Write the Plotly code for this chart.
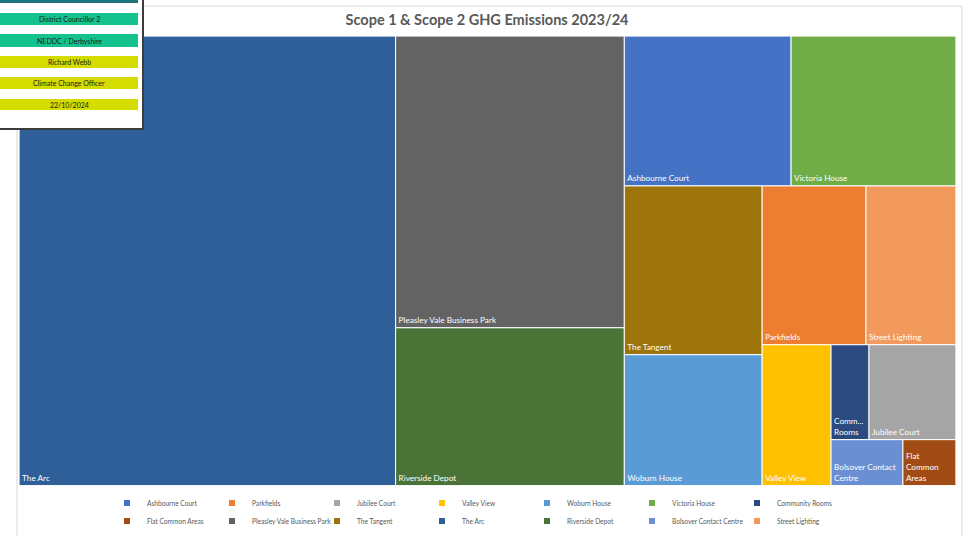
import plotly.graph_objects as go

# Categories in the workbook's (legend) order
categories = ["Ashbourne Court", "Parkfields", "Jubilee Court", "Valley View",
              "Woburn House", "Victoria House", "Community Rooms", "Flat Common Areas",
              "Pleasley Vale Business Park", "The Tangent", "The Arc", "Riverside Depot",
              "Bolsover Contact Centre", "Street Lighting"]
# Emissions (tCO2e), estimated from tile areas
emissions = [250.5, 165.4, 82.7, 97.3,
             180.8, 247.5, 36.1, 24.4,
             668.7, 233.2, 1696.5, 361.8,
             33.1, 143.1]
colors = ["#4472C4", "#ED7D31", "#A5A5A5", "#FFC000",
          "#5B9BD5", "#70AD47", "#2A4A80", "#A24C15",
          "#636363", "#9C7409", "#2E5F99", "#4A7338",
          "#6A8FD3", "#F29A5E"]
tile_text = {"Bolsover Contact Centre": "Bolsover Contact<br>Centre",
             "Flat Common Areas": "Flat<br>Common<br>Areas",
             "Community Rooms": "Comm...<br>Rooms"}
# order in which the tiles are packed
tile_order = ["The Arc", "Pleasley Vale Business Park", "Riverside Depot",
              "Ashbourne Court", "Victoria House", "The Tangent", "Woburn House",
              "Parkfields", "Street Lighting", "Valley View", "Community Rooms",
              "Jubilee Court", "Bolsover Contact Centre", "Flat Common Areas"]

# Info box texts
info_lines = ["", "District Councillor 2", "NEDDC / Derbyshire", "Richard Webb",
              "Climate Change Officer", "22/10/2024"]
info_colors = ["#1E747C", "#14C28E", "#14C28E", "#D4DC00", "#D4DC00", "#D4DC00"]

W, H = 964, 536
val = dict(zip(categories, emissions))
col = dict(zip(categories, colors))

def px(x):
    return x / W

def py(y):
    return 1 - y / H

fig = go.Figure()
fig.add_trace(go.Treemap(
    labels=tile_order,
    parents=[""] * len(tile_order),
    values=[val[c] for c in tile_order],
    text=[tile_text.get(c, c) for c in tile_order],
    texttemplate="%{text}",
    textposition="bottom left",
    textfont=dict(family="Lato", size=8.2, color="white"),
    marker=dict(colors=[col[c] for c in tile_order], line=dict(color="white", width=1)),
    tiling=dict(packing="squarify", squarifyratio=1, pad=0),
    sort=False,
    pathbar=dict(visible=False),
    hoverinfo="label+value",
    domain=dict(x=[px(15), px(960)], y=[py(502), py(32)]),
))

for i, c in enumerate(categories):
    fig.add_trace(go.Scatter(
        x=[None], y=[None], mode="markers", name=c,
        marker=dict(symbol="square", size=6, color=col[c]),
        legend="legend" if i < 7 else "legend2",
        showlegend=True,
    ))

legend_common = dict(orientation="h", xanchor="left", yanchor="middle",
                     entrywidth=60, entrywidthmode="pixels",
                     font=dict(family="Lato", size=6.6, color="#595959"),
                     bgcolor="rgba(0,0,0,0)", itemwidth=30)

shapes = [dict(type="rect", xref="paper", yref="paper", x0=px(17), x1=px(962),
               y0=py(545), y1=py(6), line=dict(color="#D9D9D9", width=1))]
shapes.append(dict(type="rect", xref="paper", yref="paper", x0=px(-3), x1=px(143),
                   y0=py(129), y1=py(-5), fillcolor="white",
                   line=dict(color="#3C3C3C", width=2)))
bar_rows = [(-5, 3), (13, 25), (34, 47), (56, 68), (77, 89), (99, 110)]
annotations = []
for (y0, y1), c, t in zip(bar_rows, info_colors, info_lines):
    shapes.append(dict(type="rect", xref="paper", yref="paper", x0=px(0), x1=px(138),
                       y0=py(y1), y1=py(y0), fillcolor=c, line=dict(width=0)))
    if t:
        annotations.append(dict(xref="paper", yref="paper", x=px(69), y=py((y0 + y1) / 2),
                                text=t, showarrow=False,
                                font=dict(family="Lato", size=7, color="#1a1a1a"),
                                xanchor="center", yanchor="middle"))

fig.update_layout(
    width=W, height=H,
    margin=dict(l=0, r=0, t=0, b=0),
    paper_bgcolor="white", plot_bgcolor="white",
    title=dict(text="<b>Scope 1 & Scope 2 GHG Emissions 2023/24</b>",
               x=px(487), y=py(20), xanchor="center", yanchor="middle",
               font=dict(family="Lato", size=14.5, color="#595959")),
    xaxis=dict(visible=False), yaxis=dict(visible=False),
    legend=dict(legend_common, x=px(107), y=py(503)),
    legend2=dict(legend_common, x=px(107), y=py(521)),
    shapes=shapes,
    annotations=annotations,
    showlegend=True,
)

fig.write_html("out.html", config={"displayModeBar": False},
               post_script="document.body.style.margin='0';")
